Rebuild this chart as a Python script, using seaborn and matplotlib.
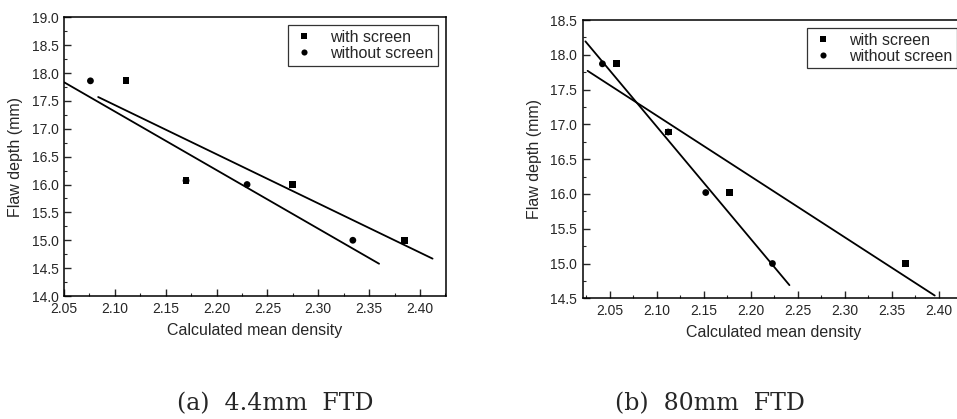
import numpy as np
import pandas as pd
import seaborn as sns
import matplotlib.pyplot as plt
from matplotlib.ticker import MultipleLocator, FormatStrFormatter

# ------------------ DATA ------------------
# (a) 4.4mm FTD
density_a_with = [2.111, 2.170, 2.275, 2.385]
depth_a_with = [17.86, 16.07, 16.00, 15.00]
density_a_without = [2.076, 2.170, 2.230, 2.334]
depth_a_without = [17.86, 16.07, 16.00, 15.00]

# (b) 80mm FTD
density_b_with = [2.057, 2.112, 2.177, 2.365]
depth_b_with = [17.87, 16.89, 16.02, 15.00]
density_b_without = [2.042, 2.112, 2.152, 2.223]
depth_b_without = [17.87, 16.89, 16.02, 15.00]

series_names = ['with screen', 'without screen']
captions = ['(a)  4.4mm  FTD', '(b)  80mm  FTD']
# ------------------------------------------

sns.set_style('ticks')
plt.rcParams['font.family'] = ['Liberation Sans', 'DejaVu Sans']


def make_frame(dw, yw, dwo, ywo):
    return pd.DataFrame({
        'density': list(dw) + list(dwo),
        'depth': list(yw) + list(ywo),
        'series': [series_names[0]] * len(dw) + [series_names[1]] * len(dwo),
    })


def fit_line(ax, x, y, xmin):
    # least-squares line drawn over the data range extended by 10%
    k, b = np.polyfit(x, y, 1)
    span = max(x) - min(x)
    xs = np.array([max(min(x) - 0.1 * span, xmin), max(x) + 0.1 * span])
    sns.lineplot(x=xs, y=k * xs + b, color='black', lw=1.3, ax=ax,
                 legend=False, sort=False)


def draw_panel(ax, df, xlim, ylim):
    sns.scatterplot(data=df, x='density', y='depth', style='series',
                    markers={series_names[0]: 's', series_names[1]: 'o'},
                    color='black', s=24, edgecolor='black', linewidth=0, ax=ax)
    for name in series_names:
        sub = df[df['series'] == name]
        fit_line(ax, sub['density'].values, sub['depth'].values, xlim[0])
    ax.set_xlim(*xlim)
    ax.set_ylim(*ylim)
    ax.xaxis.set_major_locator(MultipleLocator(0.05))
    ax.xaxis.set_minor_locator(MultipleLocator(0.025))
    ax.yaxis.set_major_locator(MultipleLocator(0.5))
    ax.yaxis.set_minor_locator(MultipleLocator(0.25))
    ax.xaxis.set_major_formatter(FormatStrFormatter('%.2f'))
    ax.yaxis.set_major_formatter(FormatStrFormatter('%.1f'))
    ax.tick_params(which='major', direction='in', length=5, width=1,
                   labelsize=10, pad=4)
    ax.tick_params(which='minor', direction='in', length=2.5, width=0.8)
    for sp in ax.spines.values():
        sp.set_linewidth(1.1)
        sp.set_color('black')
    ax.set_xlabel('Calculated mean density', fontsize=11.5, labelpad=5)
    ax.set_ylabel('Flaw depth (mm)', fontsize=11.5, labelpad=6)
    handles, labels = ax.get_legend_handles_labels()
    leg = ax.legend(handles, labels, loc='upper right', fontsize=11.5,
                    frameon=True, fancybox=False, borderaxespad=0.5,
                    handlelength=1.4, handletextpad=0.9, labelspacing=0.05,
                    borderpad=0.3, markerscale=0.9)
    leg.get_frame().set_edgecolor('black')
    leg.get_frame().set_linewidth(0.9)


fig = plt.figure(figsize=(9.57, 4.19), dpi=100)
W, H = 957, 419
ax_a = fig.add_axes([64 / W, 1 - 296 / H, (446 - 64) / W, (296 - 17.3) / H])
ax_b = fig.add_axes([582.7 / W, 1 - 298.3 / H, (965 - 582.7) / W, (298.3 - 20) / H])

draw_panel(ax_a, make_frame(density_a_with, depth_a_with, density_a_without, depth_a_without),
           (2.05, 2.4256), (14.0, 19.0))
draw_panel(ax_b, make_frame(density_b_with, depth_b_with, density_b_without, depth_b_without),
           (2.021, 2.428), (14.5, 18.5))

fig.text(177 / W, 1 - 410 / H, captions[0], ha='left', va='baseline',
         fontsize=17, family=['DejaVu Serif'])
fig.text(615 / W, 1 - 410 / H, captions[1], ha='left', va='baseline',
         fontsize=17, family=['DejaVu Serif'])

fig.savefig('out.png', dpi=100, facecolor='white')
